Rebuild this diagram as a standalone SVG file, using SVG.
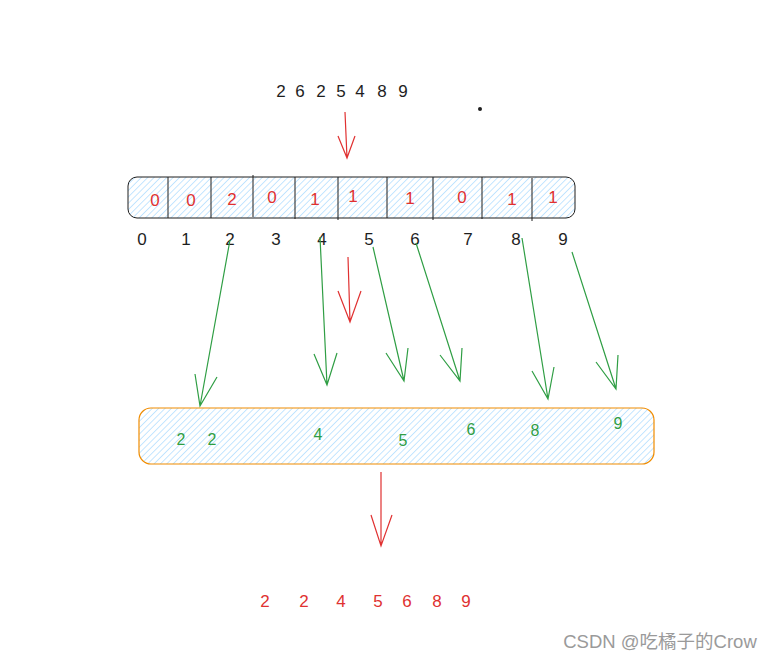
<svg xmlns="http://www.w3.org/2000/svg" width="772" height="661" viewBox="0 0 772 661">
<style>
  text { font-family: "Liberation Sans", "Noto Sans", sans-serif; text-anchor: middle; }
  .blk { fill: #1e1e1e; font-size: 17px; }
  .red { fill: #e03131; font-size: 17px; }
  .grn { fill: #2f9e44; font-size: 16px; }
  .div { stroke: #1e1e1e; stroke-width: 1; }
  .ga { stroke: #2f9e44; stroke-width: 1.2; fill: none; }
  .ra { stroke: #e03131; stroke-width: 1.2; fill: none; }
</style>
<defs>
  <pattern id="hatch" patternUnits="userSpaceOnUse" width="4.5" height="4.5" patternTransform="rotate(45)">
    <line x1="0" y1="0" x2="0" y2="4.5" stroke="#a5d8ff" stroke-width="1.3"/>
  </pattern>
</defs>
<rect width="772" height="661" fill="#ffffff"/>

<g id="input">
  <text class="blk" x="281" y="97">2</text>
  <text class="blk" x="300" y="97">6</text>
  <text class="blk" x="321" y="97">2</text>
  <text class="blk" x="341" y="97">5</text>
  <text class="blk" x="360" y="97">4</text>
  <text class="blk" x="382" y="97">8</text>
  <text class="blk" x="403" y="97">9</text>
  <circle cx="480" cy="109" r="2" fill="#1e1e1e"/>
</g>

<g id="count-array">
  <rect x="128" y="177" width="447" height="41" rx="9" fill="url(#hatch)" stroke="#1e1e1e" stroke-width="1"/>
  <line class="div" x1="168" y1="177" x2="168" y2="218"/>
  <line class="div" x1="211" y1="177" x2="211" y2="218"/>
  <line class="div" x1="253" y1="175" x2="253" y2="217"/>
  <line class="div" x1="295" y1="177" x2="295" y2="219"/>
  <line class="div" x1="338" y1="177" x2="338" y2="220"/>
  <line class="div" x1="387" y1="177" x2="387" y2="218"/>
  <line class="div" x1="433" y1="177" x2="433" y2="220"/>
  <line class="div" x1="482" y1="177" x2="482" y2="219"/>
  <line class="div" x1="532" y1="178" x2="532" y2="221"/>
  <text class="red" x="155" y="206">0</text>
  <text class="red" x="191" y="206">0</text>
  <text class="red" x="232" y="205">2</text>
  <text class="red" x="272" y="203">0</text>
  <text class="red" x="315" y="205">1</text>
  <text class="red" x="353" y="202">1</text>
  <text class="red" x="410" y="204">1</text>
  <text class="red" x="462" y="203">0</text>
  <text class="red" x="512" y="205">1</text>
  <text class="red" x="553" y="203">1</text>
</g>

<g id="indices">
  <text class="blk" x="142" y="245">0</text>
  <text class="blk" x="186" y="245">1</text>
  <text class="blk" x="230" y="245">2</text>
  <text class="blk" x="276" y="245">3</text>
  <text class="blk" x="322" y="245">4</text>
  <text class="blk" x="369" y="245">5</text>
  <text class="blk" x="415" y="245">6</text>
  <text class="blk" x="468" y="245">7</text>
  <text class="blk" x="516" y="245">8</text>
  <text class="blk" x="563" y="245">9</text>
</g>

<g id="bucket">
  <rect x="139" y="408" width="515" height="56" rx="12" fill="url(#hatch)" stroke="#f08c00" stroke-width="1.2"/>
  <text class="grn" x="181" y="445">2</text>
  <text class="grn" x="212" y="445">2</text>
  <text class="grn" x="318" y="440">4</text>
  <text class="grn" x="403" y="446">5</text>
  <text class="grn" x="471" y="435">6</text>
  <text class="grn" x="535" y="436">8</text>
  <text class="grn" x="618" y="429">9</text>
</g>

<g id="output">
  <text class="red" x="265" y="607">2</text>
  <text class="red" x="304" y="607">2</text>
  <text class="red" x="341" y="607">4</text>
  <text class="red" x="378" y="607">5</text>
  <text class="red" x="407" y="607">6</text>
  <text class="red" x="437" y="607">8</text>
  <text class="red" x="466" y="607">9</text>
</g>

<g id="watermark">
  <text x="660" y="648" style="fill:#9a9a9a;font-size:18.5px;font-family:'Liberation Sans','Noto Sans CJK SC',sans-serif">CSDN @吃橘子的Crow</text>
</g>

<g id="connectors">
  <path class="ra" d="M345 112 L347 158 M338 136 L347 158 L355 136"/>
  <path class="ra" d="M348 257 L350 322 M338 291 L350 322 L361 291"/>
  <path class="ra" d="M381 472 L381 546 M371 515 L381 546 L392 515"/>
  <path class="ga" d="M230 240 L200 406 M195 374 L200 406 L217 377"/>
  <path class="ga" d="M320 237 L327 385 M314 354 L327 385 L337 353"/>
  <path class="ga" d="M373 247 L404 381 M386 353 L404 381 L408 348"/>
  <path class="ga" d="M416 243 L460 381 M440 355 L460 381 L462 348"/>
  <path class="ga" d="M522 238 L548 399 M532 371 L548 399 L554 367"/>
  <path class="ga" d="M572 252 L616 389 M596 362 L616 389 L618 355"/>
</g>
</svg>
